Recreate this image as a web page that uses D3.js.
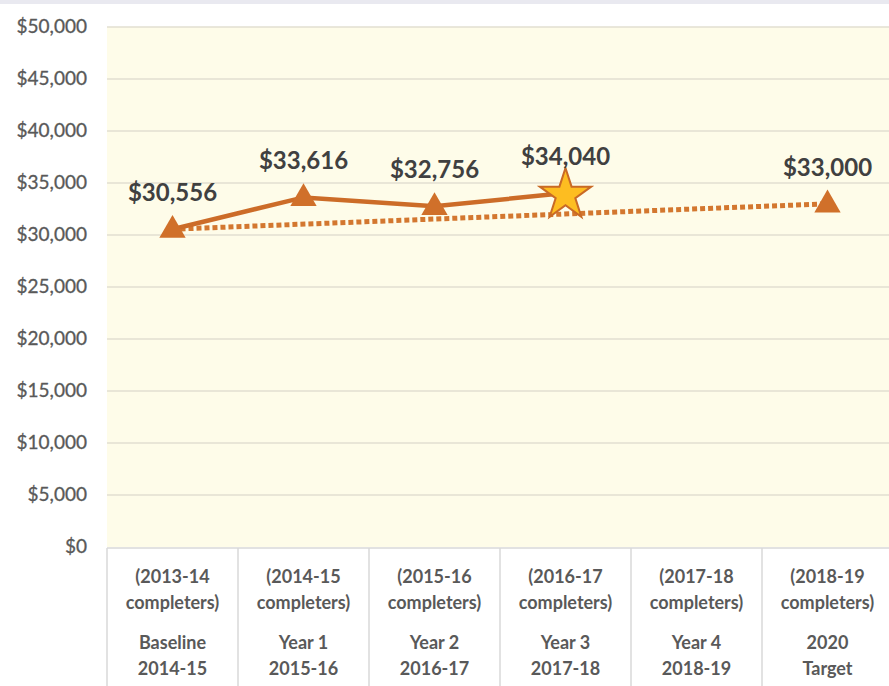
<!DOCTYPE html>
<html>
<head>
<meta charset="utf-8">
<script src="https://cdn.jsdelivr.net/npm/d3@7"></script>
<style>
  html, body { margin: 0; padding: 0; background: #fff; }
  svg { display: block; }
</style>
</head>
<body>
<div class="chart-container"></div>
<script>
// categories: two lines of period + two lines of label
const periods = ['(2013-14', '(2014-15', '(2015-16', '(2016-17', '(2017-18', '(2018-19'];
const stages = ['Baseline', 'Year 1', 'Year 2', 'Year 3', 'Year 4', '2020'];
const years = ['2014-15', '2015-16', '2016-17', '2017-18', '2018-19', 'Target'];
// actual values (index into categories)
const actualIdx = [0, 1, 2, 3];
const actualVals = [30556, 33616, 32756, 34040];
// trend baseline -> target
const targetIdx = [0, 5];
const targetVals = [30556, 33000];
const yTicks = [0, 5000, 10000, 15000, 20000, 25000, 30000, 35000, 40000, 45000, 50000];

const width = 889, height = 686;
const plotL = 107, plotR = 893, plotT = 27, plotB = 547;

const svg = d3.select('.chart-container')
  .append('svg')
  .attr('width', width)
  .attr('height', height)
  .attr('font-family', 'Lato, sans-serif');

// frame strip on top
svg.append('rect').attr('x', 0).attr('y', 0).attr('width', width).attr('height', 4).attr('fill', '#e9e9f0');

const x = d3.scaleBand().domain(d3.range(6)).range([plotL, plotR]);
const y = d3.scaleLinear().domain([0, 50000]).range([plotB, plotT]);
const cx = i => x(i) + x.bandwidth() / 2;

// plot background
svg.append('rect')
  .attr('x', plotL).attr('y', plotT)
  .attr('width', plotR - plotL).attr('height', plotB - plotT)
  .attr('fill', '#fefce9');

// grid lines
svg.append('g').selectAll('line')
  .data(yTicks.filter(d => d > 0))
  .join('line')
    .attr('x1', plotL).attr('x2', plotR)
    .attr('y1', d => y(d)).attr('y2', d => y(d))
    .attr('stroke', '#e2dfd0').attr('stroke-width', 1.5);

// y tick labels
svg.append('g').selectAll('text')
  .data(yTicks)
  .join('text')
    .attr('x', 87)
    .attr('y', d => y(d) + 6)
    .attr('text-anchor', 'end')
    .attr('font-size', '19px')
    .attr('fill', '#595959')
    .attr('stroke', '#595959').attr('stroke-width', 0.3)
    .text(d => d3.format('$,')(d));

// category table
svg.append('line')
  .attr('x1', plotL).attr('x2', plotR)
  .attr('y1', plotB + 1).attr('y2', plotB + 1)
  .attr('stroke', '#d9d9d9').attr('stroke-width', 1.5);
svg.append('g').selectAll('line')
  .data(d3.range(7))
  .join('line')
    .attr('x1', i => plotL + i * x.bandwidth()).attr('x2', i => plotL + i * x.bandwidth())
    .attr('y1', plotB + 1).attr('y2', height)
    .attr('stroke', '#d9d9d9').attr('stroke-width', 1.5);

const cat = svg.append('g').selectAll('text')
  .data(d3.range(6))
  .join('text')
    .attr('text-anchor', 'middle')
    .attr('font-size', '18px')
    .attr('font-weight', 'bold')
    .attr('fill', '#595959');
cat.append('tspan').attr('x', cx).attr('y', 583).text(i => periods[i]);
cat.append('tspan').attr('x', cx).attr('y', 609).text('completers)');
cat.append('tspan').attr('x', cx).attr('y', 649).text(i => stages[i]);
cat.append('tspan').attr('x', cx).attr('y', 675).text(i => years[i]);

// dotted trend line
svg.append('path')
  .datum(targetIdx.map((d, i) => [cx(d), y(targetVals[i])]))
  .attr('d', d3.line())
  .attr('fill', 'none')
  .attr('stroke', '#d3772f')
  .attr('stroke-width', 5)
  .attr('stroke-dasharray', '5,3');

// solid actual line
svg.append('path')
  .datum(actualIdx.map((d, i) => [cx(d), y(actualVals[i])]))
  .attr('d', d3.line())
  .attr('fill', 'none')
  .attr('stroke', '#cc6c28')
  .attr('stroke-width', 4.5);

// markers
const tri = d3.symbol().type(d3.symbolTriangle).size(300);
const star = d3.symbol().type(d3.symbolStar).size(820);
const points = actualIdx.map((d, i) => ({ i: d, v: actualVals[i], star: i === 3 }))
  .concat([{ i: targetIdx[1], v: targetVals[1], star: false }]);

svg.append('g').selectAll('path')
  .data(points)
  .join('path')
    .attr('transform', d => `translate(${cx(d.i)},${y(d.v) + (d.star ? 2 : 1)})`)
    .attr('d', d => d.star ? star() : tri())
    .attr('fill', d => d.star ? '#fdbd21' : '#d0702a')
    .attr('stroke', d => d.star ? '#c96a26' : 'none')
    .attr('stroke-width', 2);

// data labels
svg.append('g').selectAll('text')
  .data(points)
  .join('text')
    .attr('x', d => cx(d.i))
    .attr('y', d => y(d.v) - 28)
    .attr('text-anchor', 'middle')
    .attr('font-size', '24px')
    .attr('font-weight', 'bold')
    .attr('fill', '#404040')
    .text(d => d3.format('$,')(d.v));
</script>
</body>
</html>
